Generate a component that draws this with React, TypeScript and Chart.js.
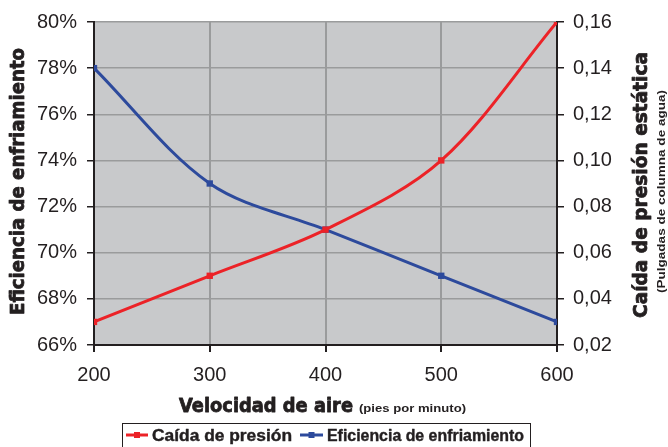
import React, { useEffect, useRef } from "react";
import { Chart, registerables } from "chart.js";

Chart.register(...registerables);

const velocities = [200, 300, 400, 500, 600];
const pressureDrop = [0.03, 0.05, 0.07, 0.1, 0.16];
const coolingEfficiency = [78, 73, 71, 69, 67];
const leftTicks = [66, 68, 70, 72, 74, 76, 78, 80];
const rightTicks = [0.02, 0.04, 0.06, 0.08, 0.1, 0.12, 0.14, 0.16];
const xTicks = [200, 300, 400, 500, 600];

const seriesNames = ["Caída de presión", "Eficiencia de enfriamiento"];
const leftTitle = "Eficiencia de enfriamiento";
const rightTitle = "Caída de presión estática";
const rightSubtitle = "(Pulgadas de columna de agua)";
const xTitle = "Velocidad de aire";
const xSubtitle = "(pies por minuto)";

const RED = "#ec2227";
const BLUE = "#2d4a9c";
const INK = "#231f20";
const PLOT_BG = "#c8c9cb";
const GRID = "#9a9b9c";
const BOLD = "bold 19px 'DejaVu Sans', 'Liberation Sans', sans-serif";
const BOLD_SMALL = "bold 11px 'Liberation Sans', Arial, sans-serif";
const LEGEND_FONT = "bold 16px 'Liberation Sans', Arial, sans-serif";

function fitText(
  ctx: CanvasRenderingContext2D,
  text: string,
  x: number,
  y: number,
  width: number,
  font: string,
  rotate: boolean,
  align: "left" | "center",
  heavy: number
) {
  ctx.save();
  ctx.font = font;
  ctx.fillStyle = INK;
  ctx.strokeStyle = INK;
  ctx.lineJoin = "round";
  ctx.textBaseline = "alphabetic";
  ctx.textAlign = align;
  const w = ctx.measureText(text).width;
  ctx.translate(x, y);
  if (rotate) ctx.rotate(-Math.PI / 2);
  ctx.scale(width / w, 1);
  ctx.fillText(text, 0, 0);
  if (heavy > 0) {
    ctx.lineWidth = heavy;
    ctx.strokeText(text, 0, 0);
  }
  ctx.restore();
}

const decorPlugin = {
  id: "decor",
  beforeDraw(chart: any) {
    const { ctx, chartArea } = chart;
    ctx.save();
    ctx.fillStyle = PLOT_BG;
    ctx.fillRect(chartArea.left, chartArea.top, chartArea.right - chartArea.left, chartArea.bottom - chartArea.top);
    ctx.restore();
  },
  afterDraw(chart: any) {
    const ctx: CanvasRenderingContext2D = chart.ctx;
    // axis titles
    fitText(ctx, leftTitle, 24, 181.5, 267, BOLD, true, "center", 0.8);
    fitText(ctx, rightTitle, 647, 185, 266, BOLD, true, "center", 0.8);
    fitText(ctx, rightSubtitle, 665, 191.5, 203, BOLD_SMALL, true, "center", 0);
    fitText(ctx, xTitle, 179, 412, 174, BOLD, false, "left", 0.8);
    fitText(ctx, xSubtitle, 359, 412, 107, BOLD_SMALL, false, "left", 0);

    // legend box
    ctx.save();
    ctx.fillStyle = "#ffffff";
    ctx.fillRect(122, 423, 408, 24);
    ctx.strokeStyle = INK;
    ctx.lineWidth = 1;
    ctx.strokeRect(122.5, 423.5, 408, 24);
    const samples = [
      { x0: 126, x1: 148, color: RED, tx: 152, tw: 140 },
      { x0: 300, x1: 323, color: BLUE, tx: 327, tw: 197 },
    ];
    samples.forEach((s, i) => {
      ctx.strokeStyle = s.color;
      ctx.lineWidth = 3;
      ctx.beginPath();
      ctx.moveTo(s.x0, 435);
      ctx.lineTo(s.x1, 435);
      ctx.stroke();
      ctx.fillStyle = s.color;
      const cx = (s.x0 + s.x1) / 2;
      ctx.fillRect(cx - 3, 432, 6, 6);
      fitText(ctx, seriesNames[i], s.tx, 441, s.tw, LEGEND_FONT, false, "left", 0.4);
    });
    ctx.restore();
  },
};

export default function App() {
  const ref = useRef<HTMLCanvasElement>(null);
  useEffect(() => {
    if (!ref.current) return;
    const tickFont = { family: "'Liberation Sans', Arial, sans-serif", size: 20 };
    const chart = new Chart(ref.current, {
      type: "line",
      data: {
        datasets: [
          {
            label: seriesNames[0],
            data: velocities.map((v, i) => ({ x: v, y: pressureDrop[i] })),
            yAxisID: "y2",
            borderColor: RED,
            backgroundColor: RED,
            borderWidth: 3,
            pointStyle: "rect",
            pointRadius: 4.5,
            pointBorderWidth: 0,
            tension: 0.33,
          },
          {
            label: seriesNames[1],
            data: velocities.map((v, i) => ({ x: v, y: coolingEfficiency[i] })),
            yAxisID: "y",
            borderColor: BLUE,
            backgroundColor: BLUE,
            borderWidth: 3,
            pointStyle: "rect",
            pointRadius: 4.5,
            pointBorderWidth: 0,
            tension: 0.33,
          },
        ],
      },
      options: {
        animation: false,
        responsive: true,
        maintainAspectRatio: false,
        layout: { padding: { left: 0, right: 0, top: 20, bottom: 0 } },
        plugins: { legend: { display: false }, tooltip: { enabled: false } },
        scales: {
          x: {
            type: "linear",
            min: 200,
            max: 600,
            afterBuildTicks: (s: any) => {
              s.ticks = xTicks.map((v) => ({ value: v }));
            },
            afterFit: (s: any) => {
              s.height = 102;
            },
            ticks: { color: INK, font: tickFont, padding: 11, maxRotation: 0 },
            grid: { color: GRID, lineWidth: 2, tickLength: 7, tickColor: INK },
            border: { color: INK, width: 2 },
          },
          y: {
            type: "linear",
            position: "left",
            min: 66,
            max: 80,
            afterBuildTicks: (s: any) => {
              s.ticks = leftTicks.map((v) => ({ value: v }));
            },
            afterFit: (s: any) => {
              s.width = 94;
            },
            ticks: { color: INK, font: tickFont, padding: 10, callback: (v: any) => v + "%" },
            grid: { color: GRID, lineWidth: 1.5, tickLength: 7, tickColor: INK },
            border: { color: INK, width: 2 },
          },
          y2: {
            type: "linear",
            position: "right",
            min: 0.02,
            max: 0.16,
            afterBuildTicks: (s: any) => {
              s.ticks = rightTicks.map((v) => ({ value: v }));
            },
            afterFit: (s: any) => {
              s.width = 111;
            },
            ticks: {
              color: INK,
              font: tickFont,
              padding: 9,
              callback: (v: any) => Number(v).toFixed(2).replace(".", ","),
            },
            grid: { drawOnChartArea: false, lineWidth: 1.5, tickLength: 7, tickColor: INK },
            border: { color: INK, width: 2 },
          },
        },
      },
      plugins: [decorPlugin],
    } as any);
    return () => chart.destroy();
  }, []);
  return (
    <div style={{ position: "absolute", left: 0, top: 0, width: 668, height: 447, background: "#fff" }}>
      <canvas ref={ref} />
    </div>
  );
}
